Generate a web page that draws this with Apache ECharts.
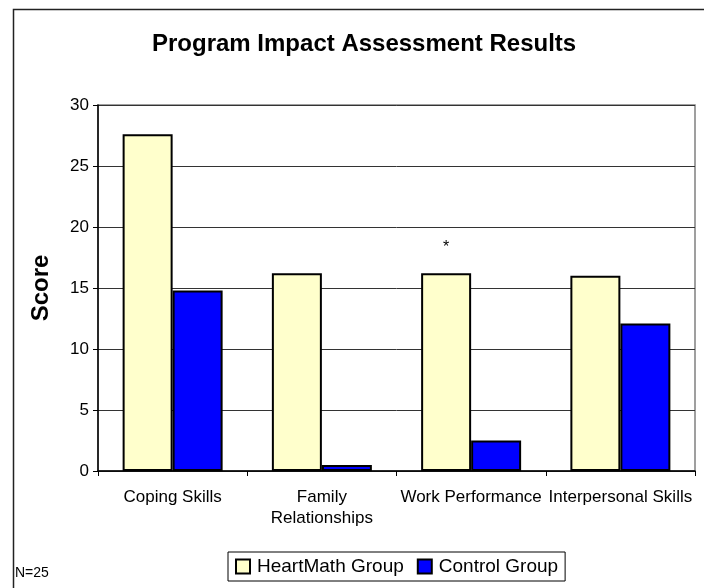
<!DOCTYPE html>
<html>
<head>
<meta charset="utf-8">
<title>Program Impact Assessment Results</title>
<script src="https://cdn.jsdelivr.net/npm/echarts@6/dist/echarts.min.js"></script>
<style>
  html, body { margin: 0; padding: 0; background: #fff; }
  #chart { width: 704px; height: 588px; }
</style>
</head>
<body>
<div id="chart"></div>
<script>
// data
var categories = ['Coping Skills', 'Family\nRelationships', 'Work Performance', 'Interpersonal Skills'];
var heartMath = [27.6, 16.2, 16.2, 16.0];
var control = [14.8, 0.5, 2.5, 12.1];
var heartMathMarks = ['', '', '*', '']; // significance marker above bar
var seriesNames = ['HeartMath Group', 'Control Group'];
var yTicks = [0, 5, 10, 15, 20, 25, 30];

var font = 'Arial, "Liberation Sans", sans-serif';

var hmData = heartMath.map(function (v, i) {
    if (!heartMathMarks[i]) return v;
    return {
        value: v,
        label: {
            show: true, position: 'top', distance: 18,
            formatter: heartMathMarks[i],
            fontFamily: font, fontSize: 16, color: '#000'
        }
    };
});

var chart = echarts.init(document.getElementById('chart'));
chart.setOption({
    animation: false,
    backgroundColor: '#fff',
    title: {
        text: 'Program Impact Assessment Results',
        left: 147, top: 27,
        textStyle: { fontFamily: font, fontSize: 24, fontWeight: 'bold', color: '#000' }
    },
    grid: {
        left: 98, right: 9, top: 105, bottom: 117,
        show: true, borderColor: '#808080', borderWidth: 1.5
    },
    legend: {
        left: 228, top: 552,
        itemWidth: 14, itemHeight: 14, itemGap: 13,
        padding: [5, 7, 5, 7],
        borderColor: '#000', borderWidth: 1,
        icon: 'rect',
        textStyle: { fontFamily: font, fontSize: 19, color: '#000', padding: [0, 0, 0, 2] },
        data: seriesNames
    },
    xAxis: {
        type: 'category',
        data: categories,
        axisLine: { lineStyle: { color: '#000', width: 1.5 } },
        axisTick: { show: true, length: 5, lineStyle: { color: '#000' } },
        axisLabel: {
            interval: 0, margin: 16, lineHeight: 21,
            fontFamily: font, fontSize: 17, color: '#000'
        }
    },
    yAxis: {
        type: 'value',
        min: yTicks[0], max: yTicks[yTicks.length - 1], interval: 5,
        name: 'Score', nameLocation: 'middle', nameGap: 45,
        nameTextStyle: { fontFamily: font, fontSize: 24, fontWeight: 'bold', color: '#000' },
        axisLine: { show: true, lineStyle: { color: '#000', width: 1.5 } },
        axisTick: { show: true, length: 5, lineStyle: { color: '#000' } },
        axisLabel: { margin: 9, fontFamily: font, fontSize: 17, color: '#000' },
        splitLine: { lineStyle: { color: '#333', width: 1 } }
    },
    series: [
        {
            name: seriesNames[0], type: 'bar', data: hmData,
            barGap: '0%', barCategoryGap: '33%',
            itemStyle: { color: '#FFFFCC', borderColor: '#000', borderWidth: 2 }
        },
        {
            name: seriesNames[1], type: 'bar', data: control,
            itemStyle: { color: '#0000FF', borderColor: '#000', borderWidth: 2 }
        }
    ],
    graphic: [
        {
            type: 'rect', left: 11, top: 7, silent: true,
            shape: { width: 720, height: 600 },
            style: { fill: 'none', stroke: '#222', lineWidth: 1.5 }
        },
        {
            type: 'text', left: 15, top: 566,
            style: { text: 'N=25', fontFamily: font, fontSize: 14, fill: '#000' }
        }
    ]
});
</script>
</body>
</html>
